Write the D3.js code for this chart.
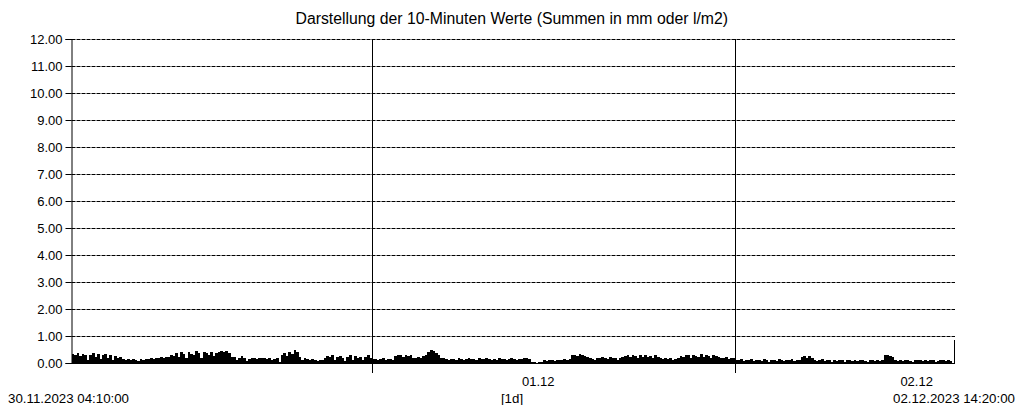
<!DOCTYPE html>
<html>
<head>
<meta charset="utf-8">
<script src="https://cdn.jsdelivr.net/npm/d3@7"></script>
<style>
  body { margin: 0; background: #fff; }
  svg text { font-family: "Liberation Sans", Arial, sans-serif; fill: #000; }
</style>
</head>
<body>
<script>
// chart text
const title = "Darstellung der 10-Minuten Werte (Summen in mm oder l/m2)"
const startLabel = "30.11.2023 04:10:00"
const endLabel = "02.12.2023 14:20:00"
const unitLabel = "[1d]"

// time range of the data (10 minute steps)
const startTime = new Date(2023, 10, 30, 4, 10)
const endTime = new Date(2023, 11, 2, 14, 20)

// day boundaries + their labels (labels sit a bit before midday)
const dayTicks = [new Date(2023, 11, 1), new Date(2023, 11, 2)]
const dayLabels = ["01.12", "02.12"]
const dayLabelTimes = [new Date(2023, 11, 1, 11, 0), new Date(2023, 11, 2, 12, 0)]

// y ticks
const yTicks = [0, 1, 2, 3, 4, 5, 6, 7, 8, 9, 10, 11, 12]

// 10-minute sums (mm)
const values = [
    0.35, 0.30, 0.38, 0.25, 0.33, 0.28, 0.10, 0.30, 0.36, 0.22, 0.32, 0.15, 0.28, 0.34, 0.20, 0.30, 0.12, 0.26, 0.18, 0.22,
    0.14, 0.12, 0.15, 0.10, 0.16, 0.12, 0.08, 0.14, 0.12, 0.16,
    0.15, 0.18, 0.16, 0.20, 0.18, 0.22, 0.20, 0.24, 0.22,
    0.30, 0.25, 0.36, 0.22, 0.40, 0.32, 0.18, 0.42, 0.35, 0.28, 0.44, 0.38, 0.20, 0.40, 0.36, 0.30, 0.42, 0.25, 0.38,
    0.42, 0.45, 0.40, 0.44, 0.38,
    0.22, 0.24, 0.12, 0.20, 0.25, 0.18, 0.06,
    0.16, 0.18, 0.20, 0.15, 0.18, 0.17, 0.20, 0.14, 0.18, 0.10, 0.16, 0.20, 0.05,
    0.30, 0.38, 0.25, 0.42, 0.35, 0.48, 0.40, 0.22,
    0.12, 0.20, 0.15, 0.10, 0.14, 0.12, 0.08, 0.10, 0.12,
    0.20, 0.25, 0.22, 0.28, 0.10, 0.24, 0.26, 0.18, 0.08, 0.22, 0.28, 0.12, 0.25, 0.20, 0.22, 0.10, 0.24, 0.28, 0.20,
    0.15, 0.16, 0.12, 0.15, 0.18, 0.10, 0.16, 0.15, 0.12,
    0.25, 0.30, 0.28, 0.22, 0.30, 0.26, 0.28, 0.18,
    0.20, 0.22, 0.18, 0.25, 0.28,
    0.40, 0.48, 0.45, 0.38, 0.30,
    0.20, 0.18, 0.15, 0.12, 0.16, 0.15, 0.10, 0.18, 0.16, 0.12, 0.15, 0.20, 0.14, 0.16, 0.12, 0.18, 0.15,
    0.14, 0.20, 0.16, 0.12, 0.15, 0.10, 0.18, 0.14, 0.16, 0.12, 0.15, 0.20, 0.14, 0.12, 0.16, 0.15,
    0.20, 0.18, 0.15,
    0.04, 0.05, 0.00, 0.03, 0.05,
    0.10, 0.08, 0.12, 0.10, 0.08, 0.10, 0.12, 0.10, 0.14, 0.12, 0.15,
    0.28, 0.30, 0.25, 0.32, 0.30, 0.26, 0.22, 0.18,
    0.15, 0.10, 0.20, 0.18, 0.22, 0.20, 0.16, 0.22, 0.18, 0.20, 0.12, 0.18, 0.22,
    0.25, 0.28, 0.22, 0.30, 0.26, 0.18, 0.28, 0.24, 0.30, 0.22, 0.26, 0.20, 0.28, 0.24,
    0.18, 0.15, 0.20, 0.16, 0.18, 0.12, 0.16, 0.18,
    0.25, 0.22, 0.30, 0.28, 0.20, 0.30, 0.26, 0.24, 0.32, 0.22, 0.28, 0.26, 0.20, 0.30, 0.25, 0.22,
    0.20, 0.18, 0.22, 0.15, 0.20, 0.18,
    0.12, 0.10, 0.14, 0.08, 0.12, 0.10, 0.15, 0.06, 0.12, 0.10, 0.08, 0.14, 0.12,
    0.05, 0.10, 0.12, 0.08, 0.14, 0.10, 0.06, 0.12, 0.10, 0.15, 0.08, 0.12, 0.10,
    0.22, 0.25, 0.20, 0.26, 0.18,
    0.12, 0.08, 0.10, 0.14, 0.06, 0.10, 0.12, 0.05, 0.10, 0.08, 0.12, 0.10, 0.04, 0.10,
    0.12, 0.08, 0.10, 0.06, 0.12, 0.10, 0.08, 0.05, 0.10, 0.12, 0.08, 0.10, 0.06, 0.10,
    0.28, 0.30, 0.25, 0.22,
    0.10, 0.08, 0.12, 0.06, 0.10, 0.12, 0.08, 0.05, 0.10, 0.12, 0.10, 0.06,
    0.10, 0.08, 0.12, 0.10, 0.05, 0.08, 0.10, 0.12, 0.06, 0.10, 0.08
]

const width = 1016
const height = 405
const marginLeft = 71.5
const marginRight = 64   // bars end at x = 952
const gridEnd = 955      // dashed lines run a little further
const marginTop = 39
const marginBottom = 42  // baseline at y = 363

const data = values.map((v, i) => ({
    t0: d3.timeMinute.offset(startTime, i * 10),
    t1: d3.timeMinute.offset(startTime, (i + 1) * 10),
    v: v
}))

const x = d3.scaleTime().domain([startTime, endTime]).range([marginLeft, width - marginRight])
const y = d3.scaleLinear().domain([0, 12]).range([height - marginBottom, marginTop])

const svg = d3.select("body").append("svg")
    .attr("width", width)
    .attr("height", height)
    .attr("viewBox", [0, 0, width, height])

// title
svg.append("text")
    .attr("x", (x.range()[0] + x.range()[1]) / 2)
    .attr("y", 24)
    .attr("text-anchor", "middle")
    .style("font-size", "15.8px")
    .text(title)

// dashed horizontal grid
svg.append("g")
    .selectAll("line")
    .data(yTicks.filter(d => d > 0))
    .join("line")
    .attr("x1", marginLeft)
    .attr("x2", gridEnd)
    .attr("y1", d => Math.round(y(d)) + 0.5)
    .attr("y2", d => Math.round(y(d)) + 0.5)
    .attr("stroke", "#000")
    .attr("stroke-dasharray", "4,1")

// y axis with labels
const yAxis = d3.axisLeft(y).tickValues(yTicks).tickFormat(d3.format(".2f")).tickSize(6).tickPadding(3)
svg.append("g")
    .attr("transform", `translate(${marginLeft},0)`)
    .call(yAxis)
    .call(g => g.selectAll("text").style("font-size", "13px").attr("fill", "#000"))
    .call(g => g.selectAll("line, path").attr("stroke", "#000"))

// day lines (go a bit below the baseline)
svg.append("g")
    .selectAll("line")
    .data(dayTicks)
    .join("line")
    .attr("x1", d => Math.round(x(d)) + 0.5)
    .attr("x2", d => Math.round(x(d)) + 0.5)
    .attr("y1", marginTop)
    .attr("y2", height - marginBottom + 10)
    .attr("stroke", "#000")

// bars
svg.append("g")
    .attr("shape-rendering", "crispEdges")
    .selectAll("rect")
    .data(data.filter(d => d.v > 0))
    .join("rect")
    .attr("x", d => x(d.t0))
    .attr("width", d => x(d.t1) - x(d.t0) + 0.3)
    .attr("y", d => y(d.v))
    .attr("height", d => y(0) - y(d.v))
    .attr("fill", "#000")

// baseline + short end mark on the right
svg.append("line")
    .attr("x1", marginLeft).attr("x2", gridEnd)
    .attr("y1", y(0) + 0.5).attr("y2", y(0) + 0.5)
    .attr("stroke", "#000")
svg.append("line")
    .attr("x1", gridEnd - 0.5).attr("x2", gridEnd - 0.5)
    .attr("y1", 340).attr("y2", y(0) + 1)
    .attr("stroke", "#000")

// day labels
svg.append("g")
    .selectAll("text")
    .data(dayLabelTimes)
    .join("text")
    .attr("x", d => x(d))
    .attr("y", 386)
    .attr("text-anchor", "middle")
    .style("font-size", "13px")
    .text((d, i) => dayLabels[i])

// bottom labels
svg.append("text").attr("x", 8).attr("y", 403).style("font-size", "13.3px").text(startLabel)
svg.append("text").attr("x", 1015).attr("y", 403).attr("text-anchor", "end").style("font-size", "13.3px").text(endLabel)
svg.append("text").attr("x", 512).attr("y", 403).attr("text-anchor", "middle").style("font-size", "13.3px").text(unitLabel)
</script>
</body>
</html>
